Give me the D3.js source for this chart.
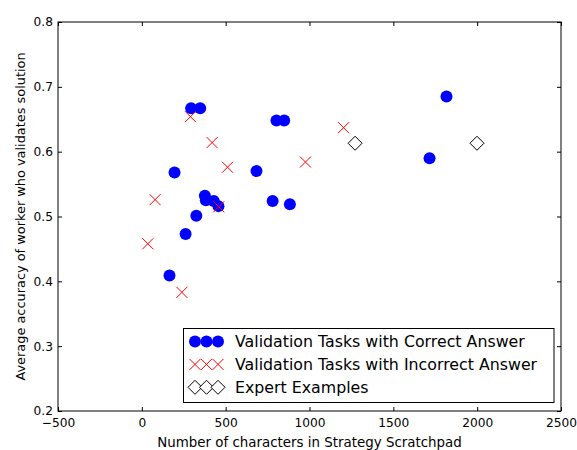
<!DOCTYPE html>
<html>
<head>
<meta charset="utf-8">
<script src="https://cdn.jsdelivr.net/npm/d3@7"></script>
<style>
  body { margin: 0; background: #fff; }
  text { font-family: "DejaVu Sans", sans-serif; fill: #000; }
</style>
</head>
<body>
<div id="chart"></div>
<script>
const width = 577;
const height = 450;
const margin = { top: 22, right: 16, bottom: 39, left: 58 };

// blue circles: validation tasks with correct answer
const correctX = [165, 261, 325, 195, 294, 348, 376, 382, 429, 457, 684, 803, 849, 780, 883, 1716, 1817];
const correctY = [0.409, 0.473, 0.501, 0.568, 0.667, 0.667, 0.532, 0.525, 0.524, 0.516, 0.570, 0.648, 0.648, 0.524, 0.519, 0.590, 0.685];

// red crosses: validation tasks with incorrect answer
const incorrectX = [36, 79, 239, 290, 419, 459, 511, 976, 1203];
const incorrectY = [0.458, 0.526, 0.383, 0.654, 0.614, 0.515, 0.576, 0.584, 0.637];

// diamonds: expert examples
const expertX = [1272, 1999];
const expertY = [0.613, 0.613];

const xTicks = [-500, 0, 500, 1000, 1500, 2000, 2500];
const yTicks = [0.2, 0.3, 0.4, 0.5, 0.6, 0.7, 0.8];
const legendLabels = ["Validation Tasks with Correct Answer", "Validation Tasks with Incorrect Answer", "Expert Examples"];

const svg = d3.select("#chart")
  .append("svg")
  .attr("width", width)
  .attr("height", height);

const x = d3.scaleLinear().domain([-500, 2500]).range([margin.left, width - margin.right]);
const y = d3.scaleLinear().domain([0.2, 0.8]).range([height - margin.bottom, margin.top]);

const fmtX = d => (d < 0 ? "\u2212" : "") + Math.abs(d);
const fmtY = d3.format(".1f");

// axes: ticks point inward, on all four sides
svg.append("g")
  .attr("transform", `translate(0,${y(0.2)})`)
  .call(d3.axisBottom(x).tickValues(xTicks).tickSize(-4).tickPadding(7).tickFormat(fmtX))
  .call(g => g.select(".domain").remove())
  .call(g => g.selectAll("text").attr("font-size", 12.2).attr("font-family", "DejaVu Sans"));

svg.append("g")
  .attr("transform", `translate(0,${y(0.8)})`)
  .call(d3.axisTop(x).tickValues(xTicks).tickSize(-4).tickFormat(""))
  .call(g => g.select(".domain").remove());

svg.append("g")
  .attr("transform", `translate(${x(-500)},0)`)
  .call(d3.axisLeft(y).tickValues(yTicks).tickSize(-4).tickPadding(5).tickFormat(fmtY))
  .call(g => g.select(".domain").remove())
  .call(g => g.selectAll("text").attr("font-size", 12.2).attr("font-family", "DejaVu Sans"));

svg.append("g")
  .attr("transform", `translate(${x(2500)},0)`)
  .call(d3.axisRight(y).tickValues(yTicks).tickSize(-4).tickFormat(""))
  .call(g => g.select(".domain").remove());

svg.append("rect")
  .attr("x", x(-500))
  .attr("y", y(0.8))
  .attr("width", x(2500) - x(-500))
  .attr("height", y(0.2) - y(0.8))
  .attr("fill", "none")
  .attr("stroke", "#000")
  .attr("stroke-width", 1);

// axis titles
svg.append("text")
  .attr("x", (x(-500) + x(2500)) / 2)
  .attr("y", 446.5)
  .attr("text-anchor", "middle")
  .attr("font-size", 13.4)
  .text("Number of characters in Strategy Scratchpad");

svg.append("text")
  .attr("transform", `translate(24.5,${(y(0.2) + y(0.8)) / 2}) rotate(-90)`)
  .attr("text-anchor", "middle")
  .attr("font-size", 12.9)
  .text("Average accuracy of worker who validates solution");

// marker helpers
function drawCircle(g, cx, cy) {
  g.append("circle").attr("cx", cx).attr("cy", cy).attr("r", 6).attr("fill", "#0000ff");
}
function drawCross(g, cx, cy) {
  const s = 5.5;
  g.append("path")
    .attr("d", `M${cx - s},${cy - s}L${cx + s},${cy + s}M${cx - s},${cy + s}L${cx + s},${cy - s}`)
    .attr("stroke", "#ff0000").attr("stroke-width", 1).attr("fill", "none");
}
function drawDiamond(g, cx, cy) {
  const s = 7;
  g.append("path")
    .attr("d", `M${cx},${cy - s}L${cx + s},${cy}L${cx},${cy + s}L${cx - s},${cy}Z`)
    .attr("stroke", "#000").attr("stroke-width", 1).attr("fill", "#fff");
}

const marks = svg.append("g");
correctX.forEach((d, i) => drawCircle(marks, x(d), y(correctY[i])));
incorrectX.forEach((d, i) => drawCross(marks, x(d), y(incorrectY[i])));
expertX.forEach((d, i) => drawDiamond(marks, x(d), y(expertY[i])));

// legend
const legend = svg.append("g");
legend.append("rect")
  .attr("x", 183.5).attr("y", 328.5)
  .attr("width", 370.5).attr("height", 74)
  .attr("fill", "#fff").attr("stroke", "#000").attr("stroke-width", 1);

const drawers = [drawCircle, drawCross, drawDiamond];
legendLabels.forEach((label, i) => {
  const cy = 341.5 + i * 22.9;
  [195, 206.5, 218].forEach(cx => drawers[i](legend, cx, cy));
  legend.append("text")
    .attr("x", 235)
    .attr("y", cy)
    .attr("dy", "0.36em")
    .attr("font-size", 15.8)
    .text(label);
});
</script>
</body>
</html>
